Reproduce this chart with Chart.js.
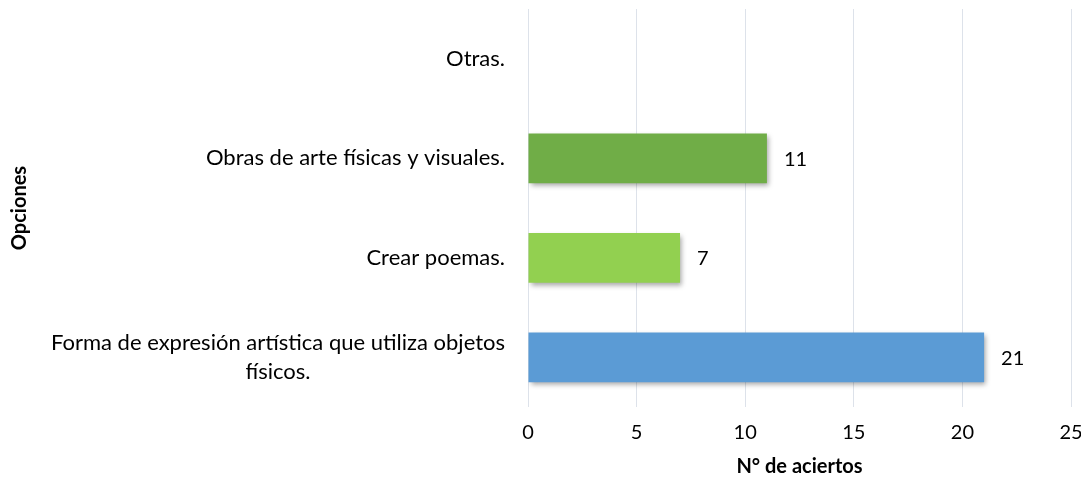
<!DOCTYPE html>
<html>
<head>
<meta charset="utf-8">
<script src="https://cdn.jsdelivr.net/npm/chart.js@4.4.1/dist/chart.umd.min.js"></script>
<style>
  html, body { margin: 0; padding: 0; background: #ffffff; }
  #wrap { width: 1081px; height: 487px; }
</style>
</head>
<body>
<div id="wrap"><canvas id="c" width="1081" height="487"></canvas></div>
<script>
const categories = [
  "Otras.",
  "Obras de arte físicas y visuales.",
  "Crear poemas.",
  ["Forma de expresión artística que utiliza objetos", "físicos."]
];
const values = [null, 11, 7, 21];
const barColors = ["#A5A5A5", "#70AD47", "#92D050", "#5B9BD5"];
const xTicks = [0, 5, 10, 15, 20, 25];
const xTitle = "N° de aciertos";
const yTitle = "Opciones";

const FONT = "Lato, 'Open Sans', sans-serif";
const FS = 20;
const CAT_FS = 22;

const shadowPlugin = {
  id: 'barShadow',
  beforeDatasetsDraw(chart) {
    const ctx = chart.ctx;
    ctx.save();
    ctx.shadowColor = 'rgba(0,0,0,0.35)';
    ctx.shadowBlur = 5;
    ctx.shadowOffsetX = 2;
    ctx.shadowOffsetY = 3;
  },
  afterDatasetsDraw(chart) {
    chart.ctx.restore();
  }
};

const labelPlugin = {
  id: 'labels',
  afterDraw(chart) {
    const ctx = chart.ctx;
    ctx.save();
    // data labels
    ctx.font = FS + "px " + FONT;
    ctx.fillStyle = "#000000";
    ctx.textAlign = "left";
    ctx.textBaseline = "middle";
    const meta = chart.getDatasetMeta(0);
    meta.data.forEach((el, i) => {
      const v = values[i];
      if (v === null || v === undefined) return;
      ctx.fillText(String(v), el.x + 17, el.y + 1);
    });
    // category labels (right aligned block, lines centered within block)
    ctx.font = CAT_FS + "px " + FONT;
    const ys = chart.scales.y;
    const rightEdge = ys.right - 23;
    const lineH = 29;
    categories.forEach((cat, i) => {
      const lines = Array.isArray(cat) ? cat : [cat];
      const y = ys.getPixelForTick(i);
      const widest = Math.max(...lines.map(l => ctx.measureText(l).width));
      const cx = rightEdge - widest / 2;
      ctx.textAlign = "center";
      lines.forEach((l, k) => {
        const ly = y + (k - (lines.length - 1) / 2) * lineH;
        ctx.fillText(l, cx, ly);
      });
    });
    ctx.restore();
  }
};

new Chart(document.getElementById('c'), {
  type: 'bar',
  data: {
    labels: categories,
    datasets: [{
      data: values,
      backgroundColor: barColors,
      borderWidth: 0,
      barPercentage: 0.5,
      categoryPercentage: 1.0
    }]
  },
  options: {
    indexAxis: 'y',
    responsive: false,
    animation: false,
    devicePixelRatio: 1,
    layout: { padding: { top: 9, right: 10, left: 0, bottom: 0 } },
    plugins: {
      legend: { display: false },
      tooltip: { enabled: false }
    },
    scales: {
      x: {
        min: 0,
        max: 25,
        afterBuildTicks(scale) { scale.ticks = xTicks.map(v => ({ value: v })); },
        afterFit(scale) { scale.height = 80; scale.paddingRight = 0; scale.paddingLeft = 0; },
        grid: { color: '#dde2ea', lineWidth: 1, drawTicks: false },
        border: { display: false },
        ticks: {
          padding: 14,
          color: '#000000',
          font: { family: FONT, size: FS }
        },
        title: {
          display: true,
          text: xTitle,
          color: '#000000',
          font: { family: FONT, size: FS, weight: 'bold' },
          padding: { top: 8, bottom: 8 }
        }
      },
      y: {
        afterFit(scale) { scale.width = 528; },
        grid: { display: false, drawTicks: false },
        border: { display: false },
        ticks: { display: false },
        title: {
          display: true,
          text: yTitle,
          color: '#000000',
          font: { family: FONT, size: FS, weight: 'bold' },
          padding: { top: 8, bottom: 0 }
        }
      }
    }
  },
  plugins: [shadowPlugin, labelPlugin]
});
</script>
</body>
</html>
